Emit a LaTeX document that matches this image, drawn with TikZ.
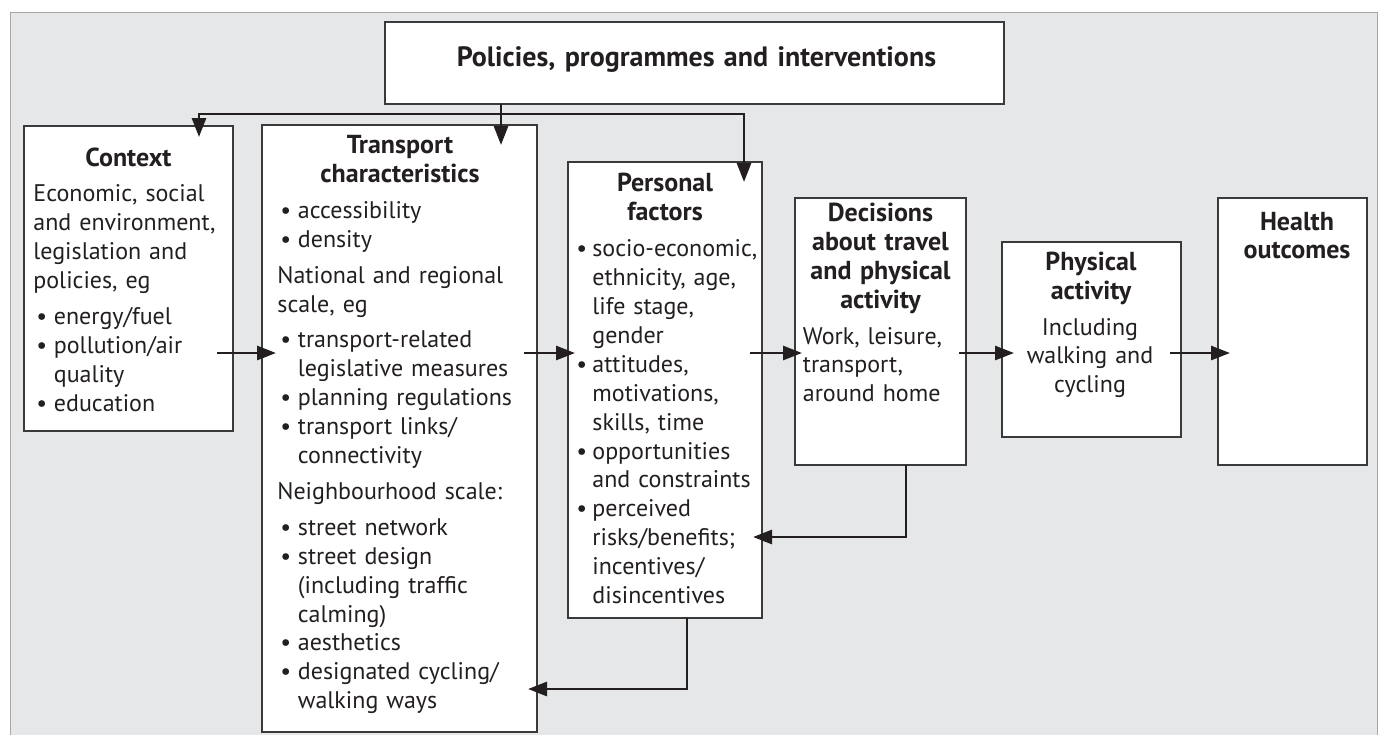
\documentclass[tikz,border=0pt]{standalone}
\usepackage{fontspec}
\setmainfont{PT Sans}
\usetikzlibrary{arrows.meta}

\definecolor{panel}{HTML}{E6E7E8}
\definecolor{ink}{HTML}{231F20}
\definecolor{edge}{HTML}{3A3A3A}

% bullet lines and their continuation lines
\newcommand\bitem{\makebox[10.25pt][l]{\hspace{1.5pt}\textbullet}}
\newcommand\bcont{\hspace*{10.25pt}}
\newcommand\pitem{\makebox[8pt][l]{\textbullet}}
\newcommand\pcont{\hspace*{8pt}}

\begin{document}
\begin{tikzpicture}[x=0.5pt,y=-0.5pt,text=ink,
  font=\fontsize{12pt}{14.45pt}\selectfont,
  box/.style={draw=edge,line width=0.9pt,fill=white,anchor=north west,inner sep=0pt,outer sep=0pt},
  head/.style={font=\fontsize{13pt}{14.45pt}\selectfont\bfseries,text width=130pt,align=center,anchor=base,inner sep=0pt},
  body/.style={text width=130pt,align=left,anchor=base west,inner sep=0pt},
  link/.style={draw=ink,line width=1.4pt},
  arr/.style={link,-{Triangle[length=9.5pt,width=7pt]}}]
\useasboundingbox (0,0) rectangle (1380,734);
\clip (0,0) rectangle (1380,734);
\draw[draw=black!35,fill=panel,line width=0.5pt] (10,12) rectangle (1377,760);

% boxes
\node[box,minimum width=309.5pt,minimum height=41pt] (pol) at (385,22) {};
\node[box,minimum width=104.5pt,minimum height=152.5pt] (ctx) at (24,126) {};
\node[box,minimum width=137.5pt,minimum height=303.5pt] (tra) at (262,125) {};
\node[box,minimum width=97pt,minimum height=228pt] (per) at (568,162) {};
\node[box,minimum width=85.5pt,minimum height=133.5pt] (dec) at (795,198) {};
\node[box,minimum width=89.5pt,minimum height=97.5pt] (phy) at (1002,242) {};
\node[box,minimum width=74.5pt,minimum height=133.5pt] (hea) at (1218,198) {};

% policies feed the first three boxes
\coordinate (fork) at (501,114);
\coordinate (ctxdrop) at (199,114);
\coordinate (perdrop) at (744,114);
\draw[link] (pol.south -| fork) -- (fork);
\draw[arr,shorten >=-5.5pt] (perdrop) -- (ctxdrop) -- (ctxdrop |- ctx.north);
\draw[arr,shorten >=-10pt] (ctxdrop) -- (perdrop) -- (perdrop |- per.north);
\draw[arr,shorten >=-10pt] (fork) -- (fork |- tra.north);

% main chain
\coordinate (row) at (0,353);
\draw[arr,shorten <=-8pt,shorten >=-7pt] (ctx.east |- row) -- (tra.west |- row);
\draw[arr,shorten <=-6.5pt,shorten >=-3.5pt] (tra.east |- row) -- (per.west |- row);
\draw[arr,shorten <=-6pt,shorten >=-3.5pt] (per.east |- row) -- (dec.west |- row);
\draw[arr,shorten <=-3.5pt,shorten >=-6pt] (dec.east |- row) -- (phy.west |- row);
\draw[arr,shorten <=-5.5pt,shorten >=-6pt] (phy.east |- row) -- (hea.west |- row);

% feedback loops
\coordinate (back1) at (906,537);
\draw[arr,shorten >=-4.5pt] (dec.south -| back1) |- (per.east |- back1);
\coordinate (back2) at (687,689);
\draw[arr,shorten >=-4.5pt] (per.south -| back2) |- (tra.east |- back2);

% texts
\node[head,text width=300pt,font=\fontsize{14pt}{16pt}\selectfont\bfseries] (pol-t) at (696.5,66) {Policies, programmes and interventions};

\node[head] (ctx-t) at (128.5,166.7) {Context};
\node[body] (ctx-b) at (33,201.7) {Economic, social\\ and environment,\\ legislation and\\ policies, eg\\[3.5pt]
  \bitem energy/fuel\\ \bitem pollution/air\\ \bcont quality\\ \bitem education};

\node[head] (tra-t) at (400,153.3) {Transport\\ characteristics};
\node[body] (tra-b) at (277,218.3) {\bitem accessibility\\ \bitem density\\[3.5pt]
  National and regional\\ scale, eg\\[3.5pt]
  \bitem transport-related\\ \bcont legislative measures\\ \bitem planning regulations\\
  \bitem transport links/\\ \bcont connectivity\\[3.5pt]
  Neighbourhood scale:\\[3.5pt]
  \bitem street network\\ \bitem street design\\ \bcont (including traffic\\ \bcont calming)\\
  \bitem aesthetics\\ \bitem designated cycling/\\ \bcont walking ways};

\node[head] (per-t) at (665,191.7) {Personal\\ factors};
\node[body] (per-b) at (576,256.7) {\pitem socio-economic,\\ \pcont ethnicity, age,\\ \pcont life stage,\\ \pcont gender\\
  \pitem attitudes,\\ \pcont motivations,\\ \pcont skills, time\\
  \pitem opportunities\\ \pcont and constraints\\
  \pitem perceived\\ \pcont risks/benefits;\\ \pcont incentives/\\ \pcont disincentives};

\node[head] (dec-t) at (880.5,221.7) {Decisions\\ about travel\\ and physical\\ activity};
\node[body] (dec-b) at (802.5,344) {Work, leisure,\\ transport,\\ around home};

\node[head] (phy-t) at (1091,270.7) {Physical\\ activity};
\node[head,font=\fontsize{12pt}{14.45pt}\selectfont] (phy-b) at (1090,335) {Including\\ walking and\\ cycling};

\node[head] (hea-t) at (1297,230) {Health\\ outcomes};
\end{tikzpicture}
\end{document}
